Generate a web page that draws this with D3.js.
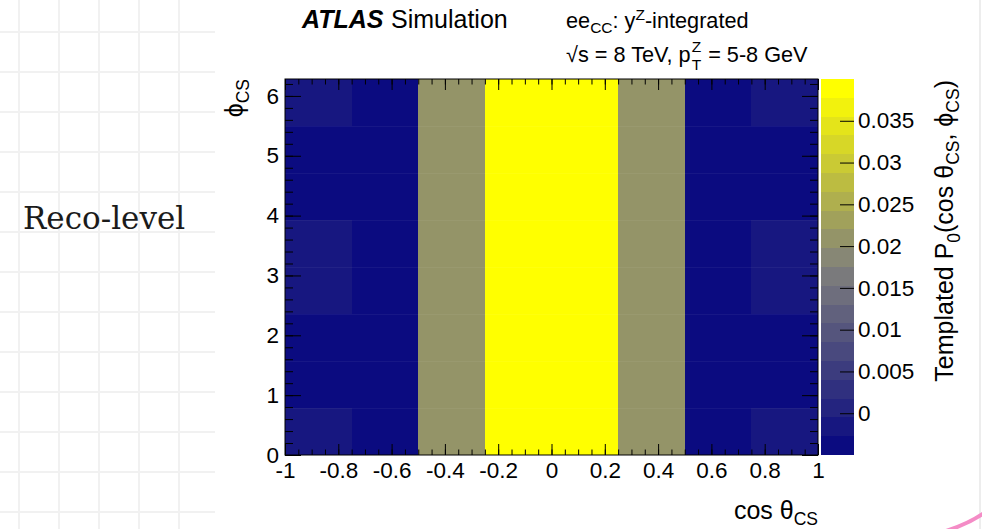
<!DOCTYPE html>
<html>
<head>
<meta charset="utf-8">
<script src="https://cdnjs.cloudflare.com/ajax/libs/d3/7.8.5/d3.min.js"></script>
<style>
html, body { margin: 0; padding: 0; background: #fff; }
svg { display: block; font-family: "Liberation Sans", Arial, Helvetica, sans-serif; }
</style>
</head>
<body>
<svg id="chart" width="982" height="529"></svg>
<script>
// Templated P0 (cos theta_CS, phi_CS), reco-level, ee_CC, pT^Z = 5-8 GeV
var cosEdges = [-1, -0.75, -0.5, -0.25, 0, 0.25, 0.5, 0.75, 1];
var phiEdges = [0, 0.785, 1.571, 2.356, 3.142, 3.927, 4.712, 5.498, 6.283];

// one row per phi bin (bottom to top), one value per cos bin
var templateValues = [
    [-0.0019, -0.0042, 0.0205, 0.0395, 0.0395, 0.0205, -0.0042, -0.0019],
    [-0.0042, -0.0042, 0.0205, 0.0395, 0.0395, 0.0205, -0.0042, -0.0042],
    [-0.0042, -0.0042, 0.0205, 0.0395, 0.0395, 0.0205, -0.0042, -0.0042],
    [-0.0019, -0.0042, 0.0205, 0.0395, 0.0395, 0.0205, -0.0042, -0.0019],
    [-0.0019, -0.0042, 0.0205, 0.0395, 0.0395, 0.0205, -0.0042, -0.0019],
    [-0.0042, -0.0042, 0.0205, 0.0395, 0.0395, 0.0205, -0.0042, -0.0042],
    [-0.0042, -0.0042, 0.0205, 0.0395, 0.0395, 0.0205, -0.0042, -0.0042],
    [-0.0019, -0.0042, 0.0205, 0.0395, 0.0395, 0.0205, -0.0042, -0.0019]
];

var xTicks = [-1, -0.8, -0.6, -0.4, -0.2, 0, 0.2, 0.4, 0.6, 0.8, 1];
var xTickLabels = ["-1", "-0.8", "-0.6", "-0.4", "-0.2", "0", "0.2", "0.4", "0.6", "0.8", "1"];
var yTicks = [0, 1, 2, 3, 4, 5, 6];
var yTickLabels = ["0", "1", "2", "3", "4", "5", "6"];
var zTicks = [0, 0.005, 0.01, 0.015, 0.02, 0.025, 0.03, 0.035];
var zTickLabels = ["0", "0.005", "0.01", "0.015", "0.02", "0.025", "0.03", "0.035"];
var zRange = [-0.005, 0.040];
var nLevels = 20;
var paletteStops = ["#0b0b80", "#80807c", "#ffff00"];

(function(d3) {

    var svg = d3.select("#chart");
    var labelSize = "22.5px";

    // slide background: grid on the left, white chart picture on top
    var bg = svg.append("g").attr("class", "background");
    bg.append("rect").attr("width", 982).attr("height", 529).style("fill", "#ffffff");
    bg.selectAll("line.gv")
        .data(d3.range(19, 215, 40))
        .enter()
        .append("line")
        .attr("x1", function(d) { return d; })
        .attr("x2", function(d) { return d; })
        .attr("y1", 0)
        .attr("y2", 529)
        .style("stroke", "#f1f1f1")
        .style("stroke-width", 2);
    bg.selectAll("line.gh")
        .data(d3.range(32, 529, 40))
        .enter()
        .append("line")
        .attr("x1", 0)
        .attr("x2", 215)
        .attr("y1", function(d) { return d; })
        .attr("y2", function(d) { return d; })
        .style("stroke", "#f1f1f1")
        .style("stroke-width", 2);
    bg.append("line")
        .attr("x1", 980).attr("x2", 980).attr("y1", 0).attr("y2", 529)
        .style("stroke", "#ededed").style("stroke-width", 2);
    bg.append("path")
        .attr("d", "M946,531 Q968,524 984,513")
        .style("fill", "none")
        .style("stroke", "#f48cc6")
        .style("stroke-width", 4);

    svg.append("text")
        .attr("x", 23)
        .attr("y", 229)
        .style("font-family", "'DejaVu Serif', 'Liberation Serif', serif")
        .style("font-size", "31px")
        .style("fill", "#1b1b1b")
        .text("Reco-level");

    var x = d3.scaleLinear().domain([-1, 1]).range([285, 818]);
    var y = d3.scaleLinear().domain([0, 6.283]).range([455, 79]);
    var z = d3.scaleLinear().domain(zRange).range([455, 79]);

    var palette = d3.scaleLinear()
        .domain([0, 0.5, 1])
        .range(paletteStops)
        .interpolate(d3.interpolateRgb);
    var bandColors = d3.range(nLevels).map(function(i) { return palette(i / (nLevels - 1)); });
    var color = d3.scaleQuantize().domain(zRange).range(bandColors);

    // histogram cells
    var cells = [];
    templateValues.forEach(function(row, j) {
        row.forEach(function(v, i) {
            cells.push({ x0: cosEdges[i], x1: cosEdges[i + 1], y0: phiEdges[j], y1: phiEdges[j + 1], v: v });
        });
    });

    svg.append("g").attr("class", "cells")
        .attr("shape-rendering", "crispEdges")
        .selectAll("rect")
        .data(cells)
        .enter()
        .append("rect")
        .attr("x", function(d) { return Math.round(x(d.x0)); })
        .attr("y", function(d) { return Math.round(y(d.y1)); })
        .attr("width", function(d) { return Math.round(x(d.x1)) - Math.round(x(d.x0)); })
        .attr("height", function(d) { return Math.round(y(d.y0)) - Math.round(y(d.y1)); })
        .style("fill", function(d) { return color(d.v); });

    // faint seams between phi rows, as in the original rendering
    svg.append("g").attr("class", "seams")
        .selectAll("line")
        .data(phiEdges.slice(1, -1))
        .enter()
        .append("line")
        .attr("x1", x(-1)).attr("x2", x(1))
        .attr("y1", function(d) { return Math.round(y(d)) + 0.5; })
        .attr("y2", function(d) { return Math.round(y(d)) + 0.5; })
        .style("stroke", "rgba(255,255,255,0.05)")
        .style("stroke-width", 1);

    // colour bar
    var levelStep = (zRange[1] - zRange[0]) / nLevels;
    svg.append("g").attr("class", "palette")
        .attr("shape-rendering", "crispEdges")
        .selectAll("rect")
        .data(bandColors)
        .enter()
        .append("rect")
        .attr("x", 821)
        .attr("width", 33)
        .attr("y", function(d, i) { return Math.round(z(zRange[0] + (i + 1) * levelStep)); })
        .attr("height", function(d, i) {
            return Math.round(z(zRange[0] + i * levelStep)) - Math.round(z(zRange[0] + (i + 1) * levelStep));
        })
        .style("fill", function(d) { return d; });

    var styleAxis = function(g) {
        g.attr("font-family", null).attr("font-size", null);
        g.select(".domain").remove();
        g.selectAll("line").style("stroke", "#000");
        g.selectAll("text").style("font-size", labelSize).style("fill", "#000");
    };

    // x axis, bottom and top
    svg.append("g")
        .attr("transform", "translate(0,455)")
        .call(d3.axisBottom(x).tickValues(x.ticks(40)).tickSize(-5.5).tickFormat(""))
        .call(styleAxis);
    svg.append("g")
        .attr("transform", "translate(0,455)")
        .call(d3.axisBottom(x).tickValues(xTicks).tickSize(-11).tickPadding(7)
            .tickFormat(function(d, i) { return xTickLabels[i]; }))
        .call(styleAxis);
    svg.append("g")
        .attr("transform", "translate(0,79)")
        .call(d3.axisTop(x).tickValues(x.ticks(40)).tickSize(-5.5).tickFormat(""))
        .call(styleAxis);
    svg.append("g")
        .attr("transform", "translate(0,79)")
        .call(d3.axisTop(x).tickValues(xTicks).tickSize(-11).tickFormat(""))
        .call(styleAxis);

    // y axis, left and right
    svg.append("g")
        .attr("transform", "translate(285,0)")
        .call(d3.axisLeft(y).tickValues(y.ticks(30)).tickSize(-8).tickFormat(""))
        .call(styleAxis);
    svg.append("g")
        .attr("transform", "translate(285,0)")
        .call(d3.axisLeft(y).tickValues(yTicks).tickSize(-16).tickPadding(6)
            .tickFormat(function(d, i) { return yTickLabels[i]; }))
        .call(styleAxis);
    svg.append("g")
        .attr("transform", "translate(818,0)")
        .call(d3.axisRight(y).tickValues(y.ticks(30)).tickSize(-8).tickFormat(""))
        .call(styleAxis);
    svg.append("g")
        .attr("transform", "translate(818,0)")
        .call(d3.axisRight(y).tickValues(yTicks).tickSize(-16).tickFormat(""))
        .call(styleAxis);

    // colour bar axis
    svg.append("g")
        .attr("transform", "translate(854,0)")
        .call(d3.axisRight(z).tickValues(zTicks).tickSize(-14).tickPadding(4)
            .tickFormat(function(d, i) { return zTickLabels[i]; }))
        .call(styleAxis);

    svg.append("rect")
        .attr("x", 285).attr("y", 79)
        .attr("width", 533).attr("height", 376)
        .style("fill", "none").style("stroke", "#000").style("stroke-width", 1);

    // axis titles
    var xTitle = svg.append("text")
        .attr("x", 818).attr("y", 519)
        .attr("text-anchor", "end")
        .style("font-size", "25px");
    xTitle.append("tspan").text("cos θ");
    xTitle.append("tspan").attr("dy", 6).style("font-size", "17.5px").text("CS");

    var yTitle = svg.append("text")
        .attr("transform", "translate(243,79) rotate(-90)")
        .attr("text-anchor", "end")
        .style("font-size", "25px");
    yTitle.append("tspan").text("ϕ");
    yTitle.append("tspan").attr("dy", 6).style("font-size", "17.5px").text("CS");

    var zTitle = svg.append("text")
        .attr("transform", "translate(953,80) rotate(-90)")
        .attr("text-anchor", "end")
        .style("font-size", "25px");
    zTitle.append("tspan").text("Templated P");
    zTitle.append("tspan").attr("dy", 7).style("font-size", "17.5px").text("0");
    zTitle.append("tspan").attr("dy", -7).text("(cos θ");
    zTitle.append("tspan").attr("dy", 6).style("font-size", "17.5px").text("CS");
    zTitle.append("tspan").attr("dy", -6).text(", ϕ");
    zTitle.append("tspan").attr("dy", 6).style("font-size", "17.5px").text("CS");
    zTitle.append("tspan").attr("dy", -6).text(")");

    // ATLAS label and legend text
    svg.append("text")
        .attr("x", 302).attr("y", 28)
        .style("font-size", "25px").style("font-weight", "bold").style("font-style", "italic")
        .text("ATLAS");
    svg.append("text")
        .attr("x", 391).attr("y", 28)
        .style("font-size", "25px")
        .text("Simulation");

    var line1 = svg.append("text")
        .attr("x", 566).attr("y", 28)
        .style("font-size", "21.7px");
    line1.append("tspan").text("ee");
    line1.append("tspan").attr("dy", 5).style("font-size", "15.5px").text("CC");
    line1.append("tspan").attr("dy", -5).text(": y");
    line1.append("tspan").attr("dy", -8).style("font-size", "15.5px").text("Z");
    line1.append("tspan").attr("dy", 8).text("-integrated");

    var line2a = svg.append("text")
        .attr("x", 566).attr("y", 62)
        .style("font-size", "21.7px")
        .text("√s = 8 TeV, p");
    var px = 566 + line2a.node().getComputedTextLength() + 1;
    var supZ = svg.append("text")
        .attr("x", px).attr("y", 52)
        .style("font-size", "15.5px")
        .text("Z");
    var subT = svg.append("text")
        .attr("x", px).attr("y", 70)
        .style("font-size", "15.5px")
        .text("T");
    var wScript = Math.max(supZ.node().getComputedTextLength(), subT.node().getComputedTextLength());
    svg.append("text")
        .attr("x", px + wScript + 7).attr("y", 62)
        .style("font-size", "21.7px")
        .text("= 5-8 GeV");

})(d3);
</script>
</body>
</html>
